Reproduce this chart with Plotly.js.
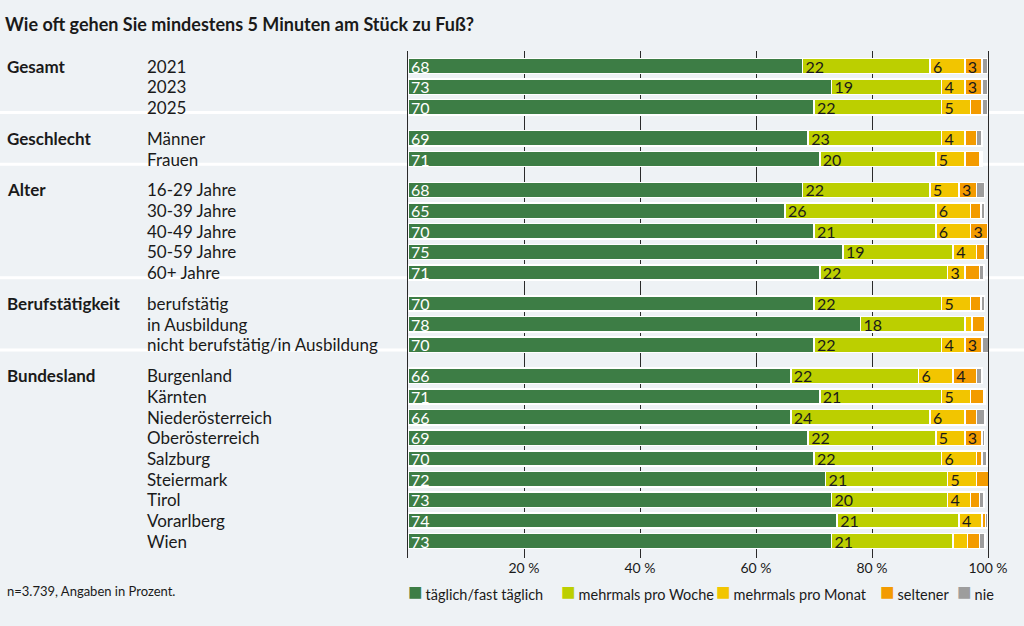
<!DOCTYPE html>
<html>
<head>
<meta charset="utf-8">
<script src="https://cdn.plot.ly/plotly-3.0.1.min.js"></script>
<style>
  html, body { margin: 0; padding: 0; background: #eef2f5; }
  #chart { width: 1024px; height: 626px; }
</style>
</head>
<body>
<div id="chart"></div>
<script>
// groups and their rows (top to bottom)
const groups = ['Gesamt', 'Geschlecht', 'Alter', 'Berufstätigkeit', 'Bundesland'];
const rowsPerGroup = [
   ['2021', '2023', '2025'],
   ['Männer', 'Frauen'],
   ['16-29 Jahre', '30-39 Jahre', '40-49 Jahre', '50-59 Jahre', '60+ Jahre'],
   ['berufstätig', 'in Ausbildung', 'nicht berufstätig/in Ausbildung'],
   ['Burgenland', 'Kärnten', 'Niederösterreich', 'Oberösterreich', 'Salzburg',
    'Steiermark', 'Tirol', 'Vorarlberg', 'Wien']
];

const seriesNames = ['täglich/fast täglich', 'mehrmals pro Woche', 'mehrmals pro Monat', 'seltener', 'nie'];
const seriesColors = ['#3d7d45', '#bccf00', '#f2c500', '#f39b00', '#9d9d9d'];

const tickVals = [20, 40, 60, 80, 100];
const tickText = ['20 %', '40 %', '60 %', '80 %', '100 %'];

// values in percent, one entry per row
const taeglich = [68, 73, 70, 69, 71, 68, 65, 70, 75, 71, 70, 78, 70, 66, 71, 66, 69, 70, 72, 73, 74, 73];
const woche    = [22, 19, 22, 23, 20, 22, 26, 21, 19, 22, 22, 18, 22, 22, 21, 24, 22, 22, 21, 20, 21, 21];
const monat    = [6, 4, 5, 4, 5, 5, 6, 6, 4, 3, 5, 1.2, 4, 6, 5, 6, 5, 6, 5, 4, 4, 2.5];
const seltener = [3, 3, 2, 2, 2.6, 3, 1.8, 3, 1.5, 2.5, 1.8, 2.2, 3, 4, 2.2, 2, 3, 1, 2.4, 1.5, 0.6, 2];
const nie      = [1, 1, 1, 1, 0.4, 1.4, 0.6, 0, 0.8, 0.8, 0.6, 0, 1.4, 1, 0.3, 1.5, 0.4, 0.8, 0.3, 0.8, 0.4, 1];

const seriesValues = [taeglich, woche, monat, seltener, nie];

// y positions: one unit per row, half a unit extra between groups
const rowLabels = [];
const rowPos = [];
const groupStart = [];
const groupGaps = [];
let pos = 0;
rowsPerGroup.forEach((rows, g) => {
   if (g > 0) {
      groupGaps.push(pos - 0.75);
      pos += 0.5;
   }
   groupStart.push(pos);
   rows.forEach(r => {
      rowLabels.push(r);
      rowPos.push(pos);
      pos += 1;
   });
});
const lastPos = pos - 1;

const font = 'Lato, "Open Sans", sans-serif';
const ink = '#1a1a1a';

const data = seriesValues.map((vals, i) => ({
   type: 'bar',
   orientation: 'h',
   name: seriesNames[i],
   x: vals,
   y: rowPos,
   width: 0.74,
   marker: { color: seriesColors[i], line: { color: '#ffffff', width: 1.5 } },
   text: vals.map(v => v >= 3 ? String(Math.round(v)) : ''),
   textposition: 'inside',
   insidetextanchor: 'start',
   textangle: 0,
   textfont: { family: font, size: 16, color: i === 0 ? '#ffffff' : ink },
   hoverinfo: 'name+x',
   showlegend: false
}));

const annotations = [];
rowLabels.forEach((lab, i) => {
   annotations.push({
      xref: 'paper', yref: 'y', x: -0.4534, y: rowPos[i],
      xanchor: 'left', yanchor: 'middle', showarrow: false,
      text: lab, font: { family: font, size: 17, color: ink }
   });
});
groups.forEach((g, i) => {
   annotations.push({
      xref: 'paper', yref: 'y', x: -0.6948, y: groupStart[i],
      xanchor: 'left', yanchor: 'middle', showarrow: false,
      text: '<b>' + g + '</b>', font: { family: font, size: 17, color: ink }
   });
});

// legend drawn as a row of text items with coloured squares
const legendX = [0, 0.264, 0.531, 0.814, 0.947];
seriesNames.forEach((n, i) => {
   annotations.push({
      xref: 'paper', yref: 'paper', x: legendX[i] - 0.004, y: -0.065,
      xanchor: 'left', yanchor: 'middle', showarrow: false,
      text: '<span style="color:' + seriesColors[i] + ';font-size:24px">■</span>' +
            '<span style="font-size:12px"> </span>' + n,
      font: { family: font, size: 14.5, color: ink }
   });
});
annotations.push({
   xref: 'paper', yref: 'paper', x: -0.6948, y: -0.065,
   xanchor: 'left', yanchor: 'middle', showarrow: false,
   text: 'n=3.739, Angaben in Prozent.',
   font: { family: font, size: 13, color: ink }
});

// white separators between groups, across the full width
const shapes = groupGaps.map(y => ({
   type: 'line', xref: 'paper', yref: 'y',
   x0: -0.71, x1: 1.07, y0: y, y1: y,
   line: { color: '#ffffff', width: 3 },
   layer: 'below'
}));

const layout = {
   width: 1024,
   height: 626,
   margin: { l: 408, r: 36, t: 51, b: 68 },
   paper_bgcolor: '#eef2f5',
   plot_bgcolor: 'rgba(0,0,0,0)',
   barmode: 'stack',
   font: { family: font, color: ink },
   title: {
      text: '<b>Wie oft gehen Sie mindestens 5 Minuten am Stück zu Fuß?</b>',
      x: 5 / 1024, xanchor: 'left', xref: 'container',
      y: 0.96, yanchor: 'middle', yref: 'container',
      font: { family: font, size: 18, color: ink }
   },
   xaxis: {
      range: [0, 100],
      tickmode: 'array',
      tickvals: tickVals,
      ticktext: tickText,
      showgrid: true,
      gridcolor: '#2a2a2a',
      gridwidth: 1,
      zeroline: false,
      showline: false,
      ticks: '',
      tickfont: { family: font, size: 14, color: ink },
      fixedrange: true
   },
   yaxis: {
      range: [lastPos + 0.82, -0.73],
      showticklabels: false,
      showgrid: false,
      zeroline: false,
      showline: true,
      mirror: true,
      linecolor: '#2a2a2a',
      linewidth: 1,
      ticks: '',
      fixedrange: true
   },
   uniformtext: { mode: 'show', minsize: 16 },
   shapes: shapes,
   annotations: annotations,
   showlegend: false
};

Plotly.newPlot('chart', data, layout, { displayModeBar: false, staticPlot: true });
</script>
</body>
</html>
